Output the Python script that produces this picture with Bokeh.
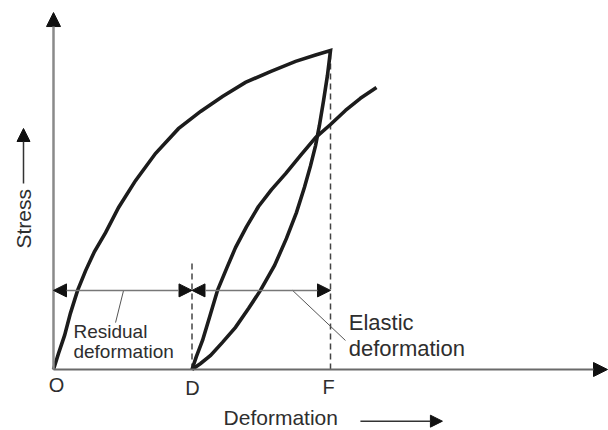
import math
from bokeh.plotting import figure
from bokeh.models import Range1d, Arrow, NormalHead
from bokeh.core.properties import value
from bokeh.embed import file_html
from bokeh.resources import INLINE

# ---- data (deformation units, stress units) ----
point_names = ["O", "D", "F"]
point_deformation = [0.0, 5.0, 10.0]
peak_stress = 10.0

loading_deformation = [0.00, 0.18, 0.40, 0.61, 0.87, 1.16, 1.48, 1.88, 2.35, 2.96, 3.68,
                       4.51, 5.31, 6.10, 6.93, 7.83, 8.74, 9.46, 10.00]
loading_stress = [0.00, 0.50, 1.07, 1.76, 2.48, 3.10, 3.70, 4.29, 5.08, 5.92, 6.77,
                  7.55, 8.09, 8.56, 9.00, 9.34, 9.66, 9.86, 10.00]

unloading_deformation = [10.00, 9.89, 9.75, 9.60, 9.46, 9.28, 9.06, 8.77, 8.41, 7.98,
                         7.47, 7.04, 6.57, 6.10, 5.67, 5.31, 5.00]
unloading_stress = [10.00, 9.22, 8.43, 7.65, 7.02, 6.39, 5.71, 4.92, 4.11, 3.26,
                    2.48, 1.91, 1.32, 0.85, 0.44, 0.19, 0.00]

reloading_deformation = [5.00, 5.16, 5.38, 5.63, 5.92, 6.25, 6.57, 6.97, 7.40, 7.87,
                         8.38, 8.92, 9.46, 10.00, 10.54, 11.08, 11.66]
reloading_stress = [0.00, 0.41, 0.91, 1.63, 2.48, 3.17, 3.82, 4.48, 5.11, 5.64,
                    6.14, 6.71, 7.27, 7.68, 8.12, 8.50, 8.84]

arrow_level = 2.48          # stress level of the dimension arrows
d_dash_top = 3.32           # top of the dashed line at D
residual_label = ["Residual", "deformation"]
elastic_label = ["Elastic", "deformation"]

FONT = value("Liberation Sans")
TXT = "#2e2e2e"
CURVE = "#1c1c1c"
HEAD = "#111111"

p = figure(width=608, height=430,
           x_range=Range1d(-1.9134, 20.036), y_range=Range1d(-1.9122, 11.5674),
           x_axis_type=None, y_axis_type=None,
           output_backend="svg", toolbar_location=None, min_border=0)
p.grid.visible = False
p.outline_line_color = None
p.background_fill_color = "white"
p.border_fill_color = "white"

# axes with arrow heads
p.add_layout(Arrow(x_start=0, y_start=0, x_end=0, y_end=11.19,
                   line_color="#8a8a8a", line_width=2.5,
                   end=NormalHead(size=14, fill_color=HEAD, line_color=HEAD)))
p.add_layout(Arrow(x_start=0, y_start=0, x_end=20.0, y_end=0,
                   line_color="#6a6a6a", line_width=2,
                   end=NormalHead(size=14, fill_color=HEAD, line_color=HEAD)))

# dashed verticals at D and F
p.segment(x0=[point_deformation[1], point_deformation[2]], y0=[0, 0],
          x1=[point_deformation[1], point_deformation[2]], y1=[d_dash_top, peak_stress],
          line_color="#444444", line_width=1.5, line_dash="6 4")

# curves
p.line(loading_deformation + unloading_deformation[1:], loading_stress + unloading_stress[1:],
       line_color=CURVE, line_width=3.6, line_join="miter", line_cap="butt")
p.line(reloading_deformation, reloading_stress,
       line_color=CURVE, line_width=3.6, line_join="round", line_cap="butt")

# dimension arrows
for xs, xe in [(point_deformation[0], point_deformation[1]), (point_deformation[1], point_deformation[2])]:
    p.add_layout(Arrow(x_start=xs, y_start=arrow_level, x_end=xe, y_end=arrow_level,
                       line_color="#777777", line_width=1.5,
                       start=NormalHead(size=13, fill_color=HEAD, line_color=HEAD),
                       end=NormalHead(size=13, fill_color=HEAD, line_color=HEAD)))

# leader lines
p.segment(x0=[2.53, 8.63], y0=[arrow_level, arrow_level], x1=[2.24, 10.54], y1=[1.47, 0.91],
          line_color="#555555", line_width=1)

# labels
p.text(x=[0.72, 0.72], y=[1.19, 0.57], text=residual_label, text_font=FONT,
       text_font_size="19px", text_color=TXT, text_align="left", text_baseline="alphabetic")
p.text(x=[10.66, 10.66], y=[1.47, 0.67], text=elastic_label, text_font=FONT,
       text_font_size="22px", text_color=TXT, text_align="left", text_baseline="alphabetic")
p.text(x=[0.11, 5.02, 9.93], y=[-0.48, -0.58, -0.56], text=point_names, text_font=FONT,
       text_font_size="20px", text_color=TXT, text_align="center", text_baseline="alphabetic")

p.text(x=[6.14], y=[-1.49], text=["Deformation"], text_font=FONT,
       text_font_size="21px", text_color=TXT, text_align="left", text_baseline="alphabetic")
p.add_layout(Arrow(x_start=11.08, y_start=-1.62, x_end=14.04, y_end=-1.62,
                   line_color="#333333", line_width=1.5,
                   end=NormalHead(size=12, fill_color=HEAD, line_color=HEAD)))

p.text(x=[-1.07], y=[3.79], text=["Stress"], angle=math.pi / 2, text_font=FONT,
       text_font_size="21px", text_color=TXT, text_align="left", text_baseline="alphabetic")
p.add_layout(Arrow(x_start=-1.083, y_start=5.83, x_end=-1.083, y_end=7.555,
                   line_color="#333333", line_width=1.5,
                   end=NormalHead(size=13, fill_color=HEAD, line_color=HEAD)))

open("out.html", "w").write(file_html(p, INLINE))
